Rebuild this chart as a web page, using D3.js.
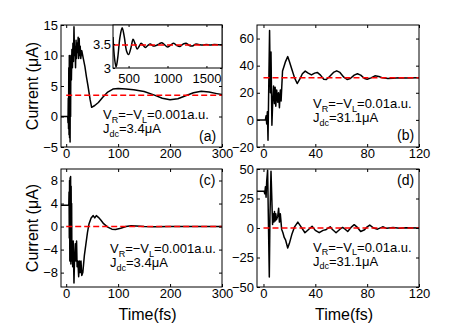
<!DOCTYPE html>
<html>
<head>
<meta charset="utf-8">
<script src="https://cdn.jsdelivr.net/npm/d3@7"></script>
<style>
  body { margin: 0; background: #fff; }
  text { font-family: "Liberation Sans", Arial, sans-serif; fill: #000; }
</style>
</head>
<body>
<div id="container"></div>
<script>
let w = 463;
let h = 327;

// DATA
// panel (a): V=0.001, long time
let aTime = [-10,3,3.5,4,4.5,5,5.5,6,6.5,7,7.5,8,8.5,9,10,11,12,13,14,15,16,17,18,19,20,21,22,23,24,25,26,27,28,30,33,36,39,42,46,49,55,62,70,80,90,100,115,130,150,170,185,200,215,230,245,260,275,290,300];
let aCurr = [0,0,-1,3,-2,8,-3,10,-3.5,7,-4.2,9,0,10,6,11,8,12,9,14.7,10,11.5,8,12.5,9.5,12,10.5,13,9.5,12.8,10,11.5,9.5,10.8,9.5,8.2,6.5,5,2.8,1.5,1.8,2.3,3.1,4,4.5,4.6,4.5,4.4,4.1,3.5,3,2.75,2.9,3.4,3.9,4.15,4,3.75,3.6];
// inset of (a)
let insTime = [300,320,340,360,390,418,445,475,500,530,558,585,610,635,662,690,715,745,780,815,850,890,925,960,1000,1040,1080,1120,1160,1200,1240,1280,1320,1360,1400,1450,1500,1550,1600,1700];
let insCurr = [3.65,3.2,3.02,3.2,3.65,3.84,3.65,3.35,3.28,3.42,3.6,3.5,3.4,3.45,3.52,3.47,3.43,3.47,3.5,3.46,3.47,3.5,3.53,3.49,3.44,3.48,3.52,3.47,3.45,3.5,3.52,3.47,3.46,3.5,3.49,3.48,3.49,3.48,3.49,3.48];
// panel (b): V=0.01
let bTime = [-5,1.5,2,2.5,3,3.5,4,4.7,5.3,5.8,6.5,7,7.8,8.5,9,9.5,10.2,11,11.6,12.3,13,13.6,14.7,16,17,18.7,20,22,24,26,28,30,32.2,34.5,37,39.5,41.5,44,46.5,48.5,51,54,56.5,59,62,64.5,67,70,72.5,75,78,80,83,86,89,92,96,100,105,110,120];
let bCurr = [0,0,3,-3,6,-15,20,66,20,50,-4,10,25,12,24,10,22,13,20,9,22,14,36,40,43,46.7,43,37,31,26.8,30,34,36,34.5,33.2,34.5,35,33,30,29.8,32,35,36.2,35,31.5,29.8,30.5,33,34,33,30.5,30,31,32.5,32,31,30.6,30.8,31,30.9,31];
// panel (c): switch-off, V=0.001
let cTime = [-10,5,5.5,6,6.5,7,7.5,8,8.5,9,9.5,10,10.5,11,11.5,12.5,13.5,15,16,17.5,18.5,20,21,22.5,24,25.5,27,28.5,30,32,35,38,41,44,48,52,55,58,62,67,72,80,88,95,105,115,125,135,150,170,200,240,300];
let cCurr = [3.7,3.7,6,-2,8,-6,8.5,0,8.7,-6.5,7,-2,4,-6,-3,-7,-2.5,-9.8,-6,-3,-6,-2.5,-7,-6,-8.7,-6,-8,-6,-8.5,-8,-5,-3,-1,0.5,1.5,1.9,1.5,1.9,1.6,1.1,0.5,-0.1,-0.45,-0.5,-0.3,0,0.15,0.1,0,-0.05,0.02,0,0];
// panel (d): switch-off, V=0.01
let dTime = [-5,0.5,1,1.5,2,2.5,3.2,3.6,4.5,5,5.8,6.3,7,7.5,8,8.5,9,9.5,10,11,11.7,12.3,13,14,15,16,17,18.7,20,22,24,26.5,29,32,35,37.5,40,43,46,48,50,51.5,53,56,59,61,63,65,68,70,72,75,78,80,82,85,88,92,95,100,105,110,120];
let dCurr = [31.1,31.1,29,35,26,40,49,20,-41.5,10,48,30,3,12,5,14,6,12,7,10,16.8,5,12,-1,-4,-8,-10,-17,-13,-5,1,5,1,-4,-1,1.5,-2,-4,-2,-1.5,0,1,-1,-4,-1,0.5,-1,-3,1,2.8,1,-3,-1.5,1,2.5,0,-1,1,-0.3,0.5,-0.2,0.3,0];

let dcLevels = [3.48, 31.1, 0, 0];
let panelTags = ["(a)", "(b)", "(c)", "(d)"];
let biasText = ["0.001a.u.", "0.01a.u.", "0.001a.u.", "0.01a.u."];
let jdcText = ["3.4μA", "31.1μA", "3.4μA", "31.1μA"];

let xTicksLong = [0,100,200,300];
let xTicksShort = [0,40,80,120];
let insXTicks = [500,1000,1500];
let insYTicks = [3,3.5];

let fmt = d3.format("~g");

// SVG
let viz = d3.select("#container").append("svg")
    .attr("width", w)
    .attr("height", h)
    .style("background-color", "white");

let panels = [
  {x0:61, x1:222, y0:25, y1:147, xd:[-10,300], yd:[-5,15], xt:xTicksLong, yt:[-5,0,5,10,15], t:aTime, v:aCurr,
   tx:103, ty:119, tagX:199, tagY:141, ylab:true, xlab:false},
  {x0:257, x1:419, y0:25, y1:147, xd:[-5,120], yd:[-20,70], xt:xTicksShort, yt:[-20,0,20,40,60], t:bTime, v:bCurr,
   tx:313, ty:108, tagX:397, tagY:140, ylab:false, xlab:false},
  {x0:61, x1:222, y0:169, y1:287, xd:[-10,300], yd:[-10.5,10], xt:xTicksLong, yt:[-8,-4,0,4,8], t:cTime, v:cCurr,
   tx:110, ty:253, tagX:199, tagY:185, ylab:true, xlab:true},
  {x0:257, x1:419, y0:169, y1:287, xd:[-5,120], yd:[-50,50], xt:xTicksShort, yt:[-50,-25,0,25,50], t:dTime, v:dCurr,
   tx:313, ty:251.5, tagX:397, tagY:185, ylab:false, xlab:true}
];

function drawBox(g, x, y, x0, x1, y0, y1, xt, yt, fs, tick, labelGapY, labelGapX) {
  // ticks inside on all four sides
  g.append("g").attr("transform", "translate(0," + y1 + ")")
    .call(d3.axisBottom(x).tickValues(xt).tickSize(-tick).tickPadding(labelGapY).tickFormat(fmt))
    .call(s => s.select(".domain").remove())
    .call(s => s.selectAll("text").attr("font-size", fs).attr("fill", "#000"));
  g.append("g").attr("transform", "translate(0," + y0 + ")")
    .call(d3.axisTop(x).tickValues(xt).tickSize(-tick).tickFormat(""))
    .call(s => s.select(".domain").remove());
  g.append("g").attr("transform", "translate(" + x0 + ",0)")
    .call(d3.axisLeft(y).tickValues(yt).tickSize(-tick).tickPadding(labelGapX).tickFormat(fmt))
    .call(s => s.select(".domain").remove())
    .call(s => s.selectAll("text").attr("font-size", fs).attr("fill", "#000"));
  g.append("g").attr("transform", "translate(" + x1 + ",0)")
    .call(d3.axisRight(y).tickValues(yt).tickSize(-tick).tickFormat(""))
    .call(s => s.select(".domain").remove());
  g.selectAll(".tick line").attr("stroke", "#000");
  g.selectAll(".tick text").attr("font-family", "'Liberation Sans', Arial, sans-serif");
  g.append("rect")
    .attr("x", x0).attr("y", y0)
    .attr("width", x1 - x0).attr("height", y1 - y0)
    .attr("fill", "none").attr("stroke", "#000").attr("stroke-width", 1);
}

panels.forEach(function(p, i){
  let g = viz.append("g");
  let x = d3.scaleLinear().domain(p.xd).range([p.x0, p.x1]);
  let y = d3.scaleLinear().domain(p.yd).range([p.y1, p.y0]);

  g.append("clipPath").attr("id", "clip" + i)
    .append("rect").attr("x", p.x0).attr("y", p.y0)
    .attr("width", p.x1 - p.x0).attr("height", p.y1 - p.y0);

  let lineMaker = d3.line()
      .x(function(d){ return x(d[0]); })
      .y(function(d){ return y(d[1]); });

  let pts = p.t.map(function(t, k){ return [t, p.v[k]]; });

  g.append("path")
    .attr("d", lineMaker(pts))
    .attr("clip-path", "url(#clip" + i + ")")
    .attr("fill", "none")
    .attr("stroke", "#000")
    .attr("stroke-width", 1.5)
    .attr("stroke-linejoin", "round");

  g.append("line")
    .attr("x1", x(0)).attr("x2", p.x1)
    .attr("y1", y(dcLevels[i])).attr("y2", y(dcLevels[i]))
    .attr("stroke", "red")
    .attr("stroke-width", 1.5)
    .attr("stroke-dasharray", "6,3");

  drawBox(g, x, y, p.x0, p.x1, p.y0, p.y1, p.xt, p.yt, 13, 3, 2, 3);

  // annotation with subscripts
  let t1 = g.append("text").attr("x", p.tx).attr("y", p.ty).attr("font-size", 13);
  t1.append("tspan").text("V");
  t1.append("tspan").attr("dy", 3.5).attr("font-size", 9).text("R");
  t1.append("tspan").attr("dy", -3.5).text("=−V");
  t1.append("tspan").attr("dy", 3.5).attr("font-size", 9).text("L");
  t1.append("tspan").attr("dy", -3.5).text("=" + biasText[i]);

  let t2 = g.append("text").attr("x", p.tx).attr("y", p.ty + 14).attr("font-size", 13);
  t2.append("tspan").text("J");
  t2.append("tspan").attr("dy", 3.5).attr("font-size", 9).text("dc");
  t2.append("tspan").attr("dy", -3.5).text("=" + jdcText[i]);

  g.append("text").attr("x", p.tagX).attr("y", p.tagY)
    .attr("font-size", 14).text(panelTags[i]);

  if (p.ylab) {
    g.append("text")
      .attr("transform", "translate(38," + ((p.y0 + p.y1) / 2) + ") rotate(-90)")
      .attr("text-anchor", "middle")
      .attr("font-size", 16)
      .text("Current (μA)");
  }
  if (p.xlab) {
    g.append("text")
      .attr("x", (p.x0 + p.x1) / 2 + 6).attr("y", 320)
      .attr("text-anchor", "middle")
      .attr("font-size", 16)
      .text("Time(fs)");
  }

  // inset in panel (a)
  if (i == 0) {
    let ix0 = 113, ix1 = 222, iy0 = 25, iy1 = 68;
    let xi = d3.scaleLinear().domain([300,1700]).range([ix0, ix1]);
    let yi = d3.scaleLinear().domain([3,3.9]).range([iy1, iy0]);
    g.append("rect").attr("x", ix0).attr("y", iy0)
      .attr("width", ix1 - ix0).attr("height", iy1 - iy0).attr("fill", "white");
    g.append("clipPath").attr("id", "clipIns")
      .append("rect").attr("x", ix0).attr("y", iy0)
      .attr("width", ix1 - ix0).attr("height", iy1 - iy0);
    let insLine = d3.line()
        .x(function(d){ return xi(d[0]); })
        .y(function(d){ return yi(d[1]); })
        .curve(d3.curveCatmullRom);
    let ipts = insTime.map(function(t, k){ return [t, insCurr[k]]; });
    g.append("path")
      .attr("d", insLine(ipts))
      .attr("clip-path", "url(#clipIns)")
      .attr("fill", "none")
      .attr("stroke", "#000")
      .attr("stroke-width", 1.5);
    g.append("line")
      .attr("x1", ix0).attr("x2", ix1)
      .attr("y1", yi(dcLevels[0])).attr("y2", yi(dcLevels[0]))
      .attr("stroke", "red").attr("stroke-width", 1.5)
      .attr("stroke-dasharray", "6,3");
    drawBox(g, xi, yi, ix0, ix1, iy0, iy1, insXTicks, insYTicks, 13, 2, 6, 2);
  }
});
</script>
</body>
</html>
